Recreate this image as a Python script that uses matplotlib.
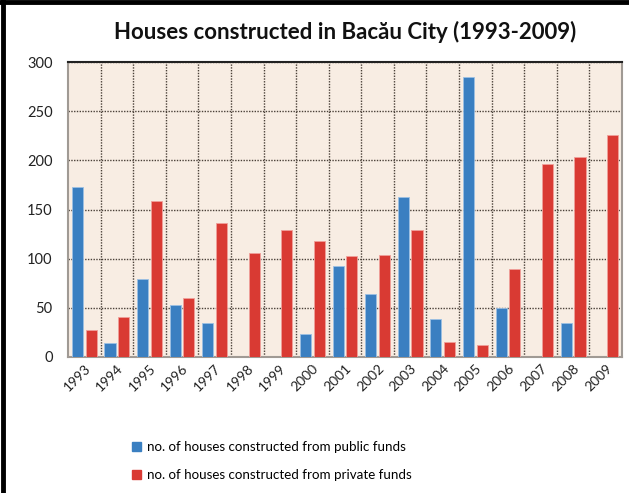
import numpy as np
import matplotlib.pyplot as plt
from matplotlib.lines import Line2D
from matplotlib.patches import Patch

years = ['1993', '1994', '1995', '1996', '1997', '1998', '1999', '2000', '2001',
         '2002', '2003', '2004', '2005', '2006', '2007', '2008', '2009']
public_funds = [173, 14, 79, 53, 35, 0, 0, 23, 93, 64, 163, 39, 285, 50, 0, 35, 0]
private_funds = [27, 41, 159, 60, 136, 106, 129, 118, 103, 104, 129, 15, 12, 89, 196, 203, 226]

blue = '#3a7fc1'
red = '#d93a33'

plt.rcParams['font.family'] = ['Lato', 'DejaVu Sans']

fig = plt.figure(figsize=(6.29, 4.93), dpi=100)
ax = fig.add_axes([68 / 629, 1 - 357 / 493, (622 - 68) / 629, (357 - 62) / 493])

x = np.arange(len(years))
w = 0.34
bars1 = ax.bar(x - 0.21, public_funds, w, color=blue, edgecolor='#9cc0e4', linewidth=0.6, zorder=3)
bars2 = ax.bar(x + 0.21, private_funds, w, color=red, edgecolor='#f0a09a', linewidth=0.6, zorder=3)
# empty years should not show an outline
for b in list(bars1) + list(bars2):
    if b.get_height() == 0:
        b.set_linewidth(0)

ax.set_facecolor('#f8ede3')
ax.set_xlim(-0.5, len(years) - 0.5)
ax.set_ylim(0, 300)
ax.set_yticks(range(0, 301, 50))
ax.set_xticks(x)
ax.set_xticks(x[:-1] + 0.5, minor=True)
ax.set_xticklabels(years, rotation=45, ha='right', va='top', rotation_mode='anchor',
                   fontsize=10, color='#222222')
ax.tick_params(axis='y', labelsize=10.5, length=0, pad=11, labelcolor='#222222')
ax.tick_params(axis='x', which='both', length=0, pad=4)
ax.grid(axis='y', which='major', linestyle=(0, (1, 1)), color='#4a4038', linewidth=1.0, zorder=1)
ax.grid(axis='x', which='minor', linestyle=(0, (1, 1)), color='#4a4038', linewidth=1.0, zorder=1)
for side in ['left', 'right', 'bottom']:
    ax.spines[side].set_color('#a09a94')
    ax.spines[side].set_linewidth(1.5)
ax.spines['top'].set_color('#222222')
ax.spines['top'].set_linewidth(1.5)

fig.text(345 / 629, 1 - 32 / 493, 'Houses constructed in Bacău City (1993-2009)',
         ha='center', va='center', fontsize=16, fontweight='bold', color='#111111')

handles = [Patch(color=blue), Patch(color=red)]
labels = ['no. of houses constructed from public funds', 'no. of houses constructed from private funds']
fig.legend(handles, labels, loc='upper left', bbox_to_anchor=(120 / 629, 1 - 429 / 493),
           frameon=False, fontsize=9.6, handlelength=0.7, handleheight=0.7,
           handletextpad=0.4, labelspacing=1.2)

# black frame on top and left edges
fig.add_artist(Line2D([0, 1], [1 - 2 / 493, 1 - 2 / 493], color='black', linewidth=3.5,
                      transform=fig.transFigure))
fig.add_artist(Line2D([2.5 / 629, 2.5 / 629], [0, 1], color='black', linewidth=3.5,
                      transform=fig.transFigure))

fig.savefig('out.png', dpi=100)
